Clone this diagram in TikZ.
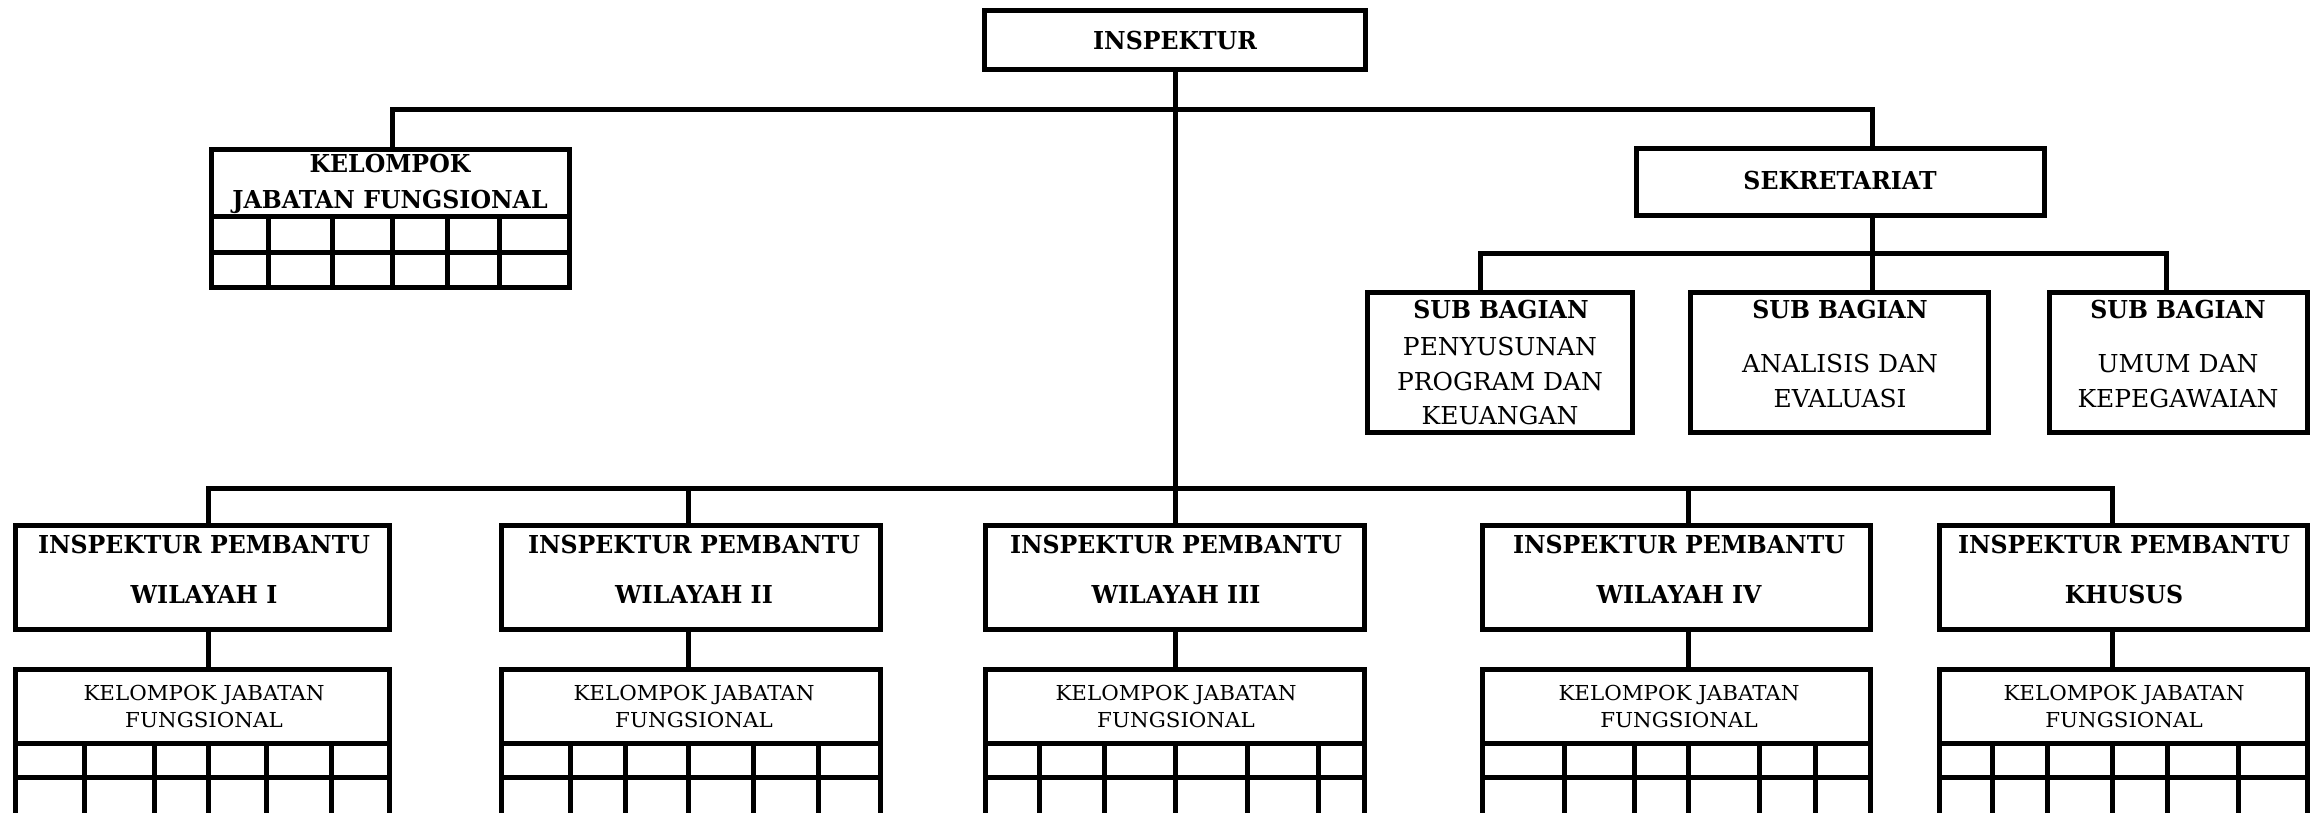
\documentclass[tikz,border=0pt]{standalone}
\usepackage{fontspec}
\setmainfont{DejaVu Serif}
\newlength\refwA
\newlength\refwB
\newlength\refwC
\newcommand\bfnt{\bfseries\fontsize{24.7}{29}\selectfont}
\newcommand\rgfnt{\fontsize{24.7}{29}\selectfont}
\newcommand\smfnt{\fontsize{20.6}{24}\selectfont}
\newcommand\bt[1]{\scalebox{\sxA}[1]{\bfnt #1}}
\newcommand\rt[1]{\scalebox{\sxB}[1]{\rgfnt #1}}
\newcommand\st[1]{\scalebox{\sxC}[1]{\smfnt #1}}
\begin{document}
\settowidth\refwA{\bfnt INSPEKTUR PEMBANTU}%
\settowidth\refwB{\rgfnt PROGRAM DAN}%
\settowidth\refwC{\smfnt KELOMPOK JABATAN}%
\pgfmathsetmacro\sxA{332/\refwA}%
\pgfmathsetmacro\sxB{206/\refwB}%
\pgfmathsetmacro\sxC{241/\refwC}%
\begin{tikzpicture}[x=1pt,y=-1pt,
  box/.style={draw, line width=5pt, rectangle, inner sep=0pt, outer sep=0pt},
  conn/.style={line width=5pt},
  gridl/.style={line width=5pt},
  tx/.style={anchor=base, inner sep=0pt}]
\useasboundingbox (0,0) rectangle (2319,813);
\clip (0,0) rectangle (2319,813);

% drop x positions
\coordinate (dk) at (392,0);
\coordinate (ds) at (1872,0);
\coordinate (ds1) at (1480,0);
\coordinate (ds3) at (2166,0);
\coordinate (d1) at (208,0);
\coordinate (d2) at (688,0);
\coordinate (d3) at (1175,0);
\coordinate (d4) at (1688,0);
\coordinate (d5) at (2112,0);
\coordinate (topbar) at (0,110);
\coordinate (sekbar) at (0,254);
\coordinate (botbar) at (0,488);

% boxes
\node[box, minimum width=381pt, minimum height=59pt] (insp) at (1175,40) {};
\node[box, minimum width=358pt, minimum height=138pt] (kjf0) at (390,218.5) {};
\node[box, minimum width=408pt, minimum height=67pt] (sek) at (1840.5,182) {};
\node[box, minimum width=265pt, minimum height=140pt] (sb1) at (1500,362.5) {};
\node[box, minimum width=298pt, minimum height=140pt] (sb2) at (1839.5,362.5) {};
\node[box, minimum width=258pt, minimum height=140pt] (sb3) at (2178.5,362.5) {};

\node[box, minimum width=374pt, minimum height=104pt] (ip1) at (202.5,577.5) {};
\node[box, minimum width=379pt, minimum height=104pt] (ip2) at (691,577.5) {};
\node[box, minimum width=379pt, minimum height=104pt] (ip3) at (1175,577.5) {};
\node[box, minimum width=388pt, minimum height=104pt] (ip4) at (1676.5,577.5) {};
\node[box, minimum width=368pt, minimum height=104pt] (ip5) at (2123.5,577.5) {};

\node[box, minimum width=374pt, minimum height=161pt] (kj1) at (202.5,750) {};
\node[box, minimum width=379pt, minimum height=161pt] (kj2) at (691,750) {};
\node[box, minimum width=379pt, minimum height=161pt] (kj3) at (1175,750) {};
\node[box, minimum width=388pt, minimum height=161pt] (kj4) at (1676.5,750) {};
\node[box, minimum width=368pt, minimum height=161pt] (kj5) at (2123.5,750) {};

% grids
\draw[gridl] (kjf0.west |- 0,217) -- (kjf0.east |- 0,217);
\draw[gridl] (kjf0.west |- 0,253) -- (kjf0.east |- 0,253);
\foreach \c in {268,332,392,447,499} \draw[gridl] (\c,217) -- (\c,290);

\foreach \n in {kj1,kj2,kj3,kj4,kj5} {
  \draw[gridl] (\n.west |- 0,743) -- (\n.east |- 0,743);
  \draw[gridl] (\n.west |- 0,777) -- (\n.east |- 0,777);
}
\foreach \c in {84,154,208,266,331, 570,625,688,753,818, 1039,1104,1175,1247,1318, 1564,1634,1688,1759,1815, 1992,2047,2112,2167,2238}
  \draw[gridl] (\c,743) -- (\c,830);

% connectors
\draw[conn] (insp.south) -- (ip3.north);
\draw[conn] (dk |- kjf0.north) -- (dk |- topbar) -- (ds |- topbar) -- (ds |- sek.north);
\draw[conn] (ds |- sek.south) -- (ds |- sb2.north);
\draw[conn] (ds1 |- sb1.north) -- (ds1 |- sekbar) -- (ds3 |- sekbar) -- (ds3 |- sb3.north);
\draw[conn] (d1 |- ip1.north) -- (d1 |- botbar) -- (d5 |- botbar) -- (d5 |- ip5.north);
\draw[conn] (d2 |- ip2.north) -- (d2 |- botbar);
\draw[conn] (d4 |- ip4.north) -- (d4 |- botbar);
\draw[conn] (d1 |- ip1.south) -- (d1 |- kj1.north);
\draw[conn] (d2 |- ip2.south) -- (d2 |- kj2.north);
\draw[conn] (d3 |- ip3.south) -- (d3 |- kj3.north);
\draw[conn] (d4 |- ip4.south) -- (d4 |- kj4.north);
\draw[conn] (d5 |- ip5.south) -- (d5 |- kj5.north);

% texts
\node[tx] (tinsp) at (1175,50) {\bt{INSPEKTUR}};
\node[tx] (tk0a) at (390,173) {\bt{KELOMPOK}};
\node[tx] (tk0b) at (390,209) {\bt{JABATAN FUNGSIONAL}};
\node[tx] (tsek) at (1840,190) {\bt{SEKRETARIAT}};

\node[tx] (ts1) at (1501,318) {\bt{SUB BAGIAN}};
\node[tx] (ts1a) at (1500,355) {\rt{PENYUSUNAN}};
\node[tx] (ts1b) at (1500,390) {\rt{PROGRAM DAN}};
\node[tx] (ts1c) at (1500,424) {\rt{KEUANGAN}};
\node[tx] (ts2) at (1840,318) {\bt{SUB BAGIAN}};
\node[tx] (ts2a) at (1840,372) {\rt{ANALISIS DAN}};
\node[tx] (ts2b) at (1840,407) {\rt{EVALUASI}};
\node[tx] (ts3) at (2178,318) {\bt{SUB BAGIAN}};
\node[tx] (ts3a) at (2178,372) {\rt{UMUM DAN}};
\node[tx] (ts3b) at (2178,407) {\rt{KEPEGAWAIAN}};

\foreach \n/\x/\w in {1/204/WILAYAH I, 2/694/WILAYAH II, 3/1176/WILAYAH III, 4/1679/WILAYAH IV, 5/2124/KHUSUS} {
  \node[tx] (tip\n a) at (\x,553) {\bt{INSPEKTUR PEMBANTU}};
  \node[tx] (tip\n b) at (\x,603) {\bt{\w}};
  \node[tx] (tkj\n a) at (\x,700) {\st{KELOMPOK JABATAN}};
  \node[tx] (tkj\n b) at (\x,727) {\st{FUNGSIONAL}};
}
\end{tikzpicture}
\end{document}
